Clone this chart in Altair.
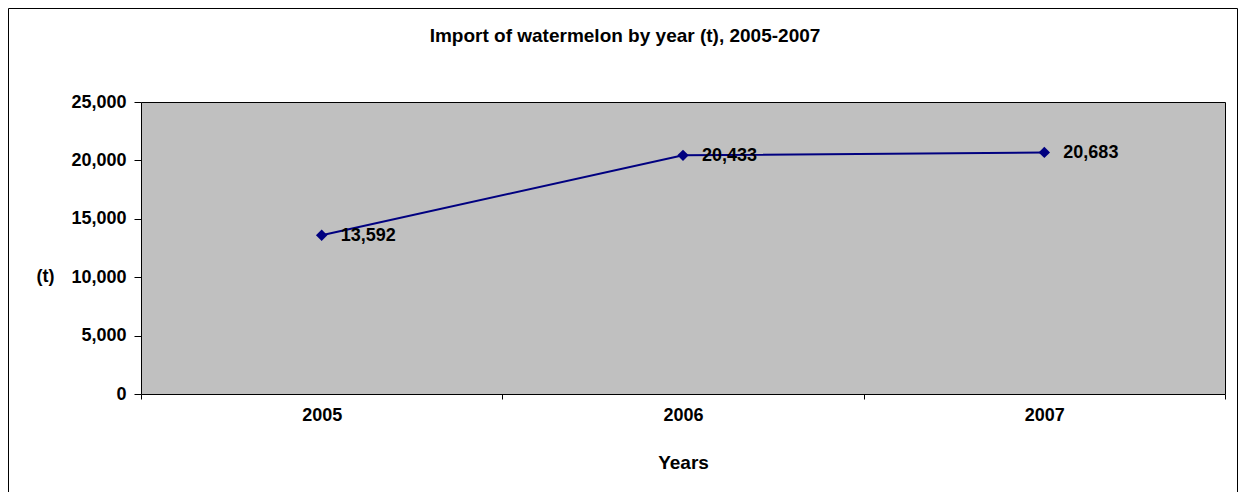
import altair as alt
import pandas as pd

years = ["2005", "2006", "2007"]
imports_t = [13592, 20433, 20683]
y_ticks = [0, 5000, 10000, 15000, 20000, 25000]

df = pd.DataFrame({"year": years, "value": imports_t})

W, H = 1084, 292
FONT = "Liberation Sans"

x_enc = alt.X(
    "year:N",
    sort=years,
    scale=alt.Scale(type="band", paddingInner=0, paddingOuter=0),
    axis=alt.Axis(
        title="Years",
        titleFontSize=19,
        titleFont=FONT,
        titleFontWeight="bold",
        titleColor="black",
        titleBaseline="middle",
        titleY=68,
        labelAngle=0,
        labelFont=FONT,
        labelFontSize=18,
        labelFontWeight="bold",
        labelColor="black",
        labelPadding=7,
        tickBand="extent",
        tickSize=5,
        tickColor="black",
        domain=False,
        grid=False,
    ),
)

y_enc = alt.Y(
    "value:Q",
    scale=alt.Scale(domain=[0, 25000], nice=False),
    axis=alt.Axis(
        values=y_ticks,
        format=",.0f",
        title="(t)",
        titleAngle=0,
        titleFont=FONT,
        titleFontSize=18,
        titleFontWeight="bold",
        titleColor="black",
        titleAlign="center",
        titleBaseline="middle",
        titleX=-96,
        titleY=174,
        labelFont=FONT,
        labelFontSize=18,
        labelFontWeight="bold",
        labelColor="black",
        labelPadding=8,
        tickSize=7,
        tickColor="black",
        domain=False,
        grid=False,
    ),
)

base = alt.Chart(df)

line = base.mark_line(color="#000080", strokeWidth=2).encode(x=x_enc, y=y_enc)
points = base.mark_point(
    shape="diamond", filled=True, color="#000080", size=130, opacity=1
).encode(x=x_enc, y=y_enc)
labels = base.mark_text(
    align="left", baseline="middle", dx=19, dy=1,
    font=FONT, fontSize=18, fontWeight="bold", color="black"
).encode(x=x_enc, y=y_enc, text=alt.Text("value:Q", format=",.0f"))

frame = alt.Chart(pd.DataFrame({"a": [0]})).mark_rect(
    fillOpacity=0, stroke="black", strokeWidth=1, clip=False
).encode(
    x=alt.value(-132.5), x2=alt.value(W + 12.5),
    y=alt.value(-93.5), y2=alt.value(H + 150),
)

chart = alt.layer(frame, line, points, labels).properties(
    width=W,
    height=H,
    background="white",
    autosize=alt.AutoSizeParams(type="none"),
    padding={"left": 133, "top": 94, "right": 13, "bottom": 98},
    title=alt.TitleParams(
        "Import of watermelon by year (t), 2005-2007",
        font=FONT, fontSize=19, fontWeight="bold", color="black",
        anchor="middle", dx=-58, offset=-47, baseline="middle",
    ),
).configure_view(
    fill="#C0C0C0", stroke="black", strokeWidth=1
)

chart.save("out.html", embed_options={"renderer": "svg", "actions": False})
